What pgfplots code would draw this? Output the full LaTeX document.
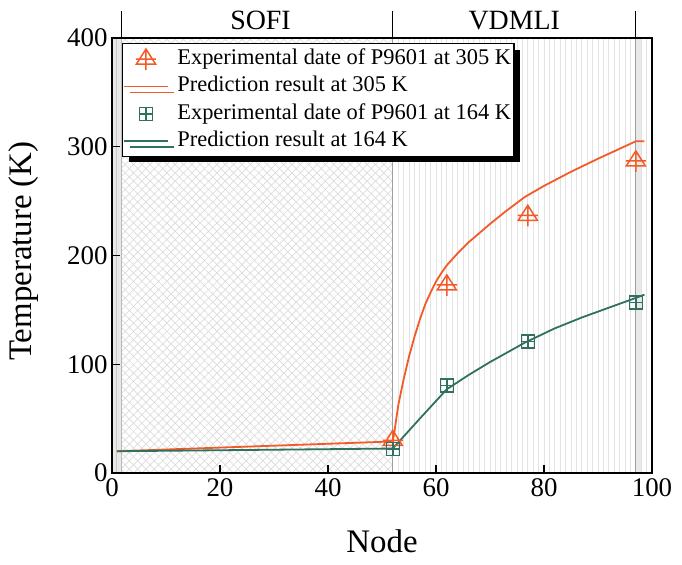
\documentclass[border=0pt]{standalone}
\usepackage{fontspec}
\setmainfont{Liberation Serif}
\usepackage{pgfplots}
\pgfplotsset{compat=1.18}
\usetikzlibrary{patterns.meta,shadows}
\definecolor{cOr}{RGB}{242,90,40}
\definecolor{cGr}{RGB}{47,112,96}
\pgfdeclareplotmark{tricross}{%
  \pgfpathmoveto{\pgfqpoint{0pt}{1.0\pgfplotmarksize}}%
  \pgfpathlineto{\pgfqpoint{-0.95\pgfplotmarksize}{-0.5\pgfplotmarksize}}%
  \pgfpathlineto{\pgfqpoint{0.95\pgfplotmarksize}{-0.5\pgfplotmarksize}}%
  \pgfpathclose
  \pgfpathmoveto{\pgfqpoint{0pt}{1.0\pgfplotmarksize}}%
  \pgfpathlineto{\pgfqpoint{0pt}{-1.1\pgfplotmarksize}}%
  \pgfpathmoveto{\pgfqpoint{-1.0\pgfplotmarksize}{0pt}}%
  \pgfpathlineto{\pgfqpoint{1.0\pgfplotmarksize}{0pt}}%
  \pgfusepathqstroke}
\pgfdeclareplotmark{sqplus}{%
  \pgfpathrectangle{\pgfqpoint{-\pgfplotmarksize}{-\pgfplotmarksize}}{\pgfqpoint{2\pgfplotmarksize}{2\pgfplotmarksize}}%
  \pgfpathmoveto{\pgfqpoint{0pt}{-\pgfplotmarksize}}%
  \pgfpathlineto{\pgfqpoint{0pt}{\pgfplotmarksize}}%
  \pgfpathmoveto{\pgfqpoint{-\pgfplotmarksize}{0pt}}%
  \pgfpathlineto{\pgfqpoint{\pgfplotmarksize}{0pt}}%
  \pgfusepathqstroke}
\begin{document}
\begin{tikzpicture}
\begin{axis}[
  scale only axis, width=540bp, height=435bp,
  xmin=0, xmax=100, ymin=0, ymax=400,
  clip=false, axis on top,
  xtick={0,20,...,100}, ytick={0,100,...,400},
  xtick pos=bottom, ytick pos=left,
  tick align=inside, major tick length=8bp,
  tick style={black, line width=1.5bp},
  axis line style={line width=2bp, black},
  /pgf/number format/assume math mode=true,
  tick label style={font=\fontsize{27}{30}\selectfont},
  xticklabel style={yshift=-2.5bp},
  yticklabel style={xshift=-1bp},
  label style={font=\fontsize{33}{38}\selectfont},
  xlabel={Node}, ylabel={Temperature (K)},
  xlabel style={at={(axis description cs:0.5,-0.158)}, anchor=center},
  ylabel style={at={(axis description cs:-0.164,0.51)}, anchor=center},
  legend image code/.code={\draw[mark repeat=2,mark phase=2,#1] plot coordinates {(0bp,0bp) (22bp,0bp) (44bp,0bp)};},
  legend cell align=left,
  legend style={at={(0.0185,0.988)}, anchor=north west, draw=black, line width=1.2bp,
     fill=white, font=\fontsize{22.5}{26}\selectfont, inner xsep=0.5bp, inner ysep=1.5bp,
     nodes={text height=16bp, text depth=5bp, inner ysep=3.2bp, inner xsep=2.5bp},
     /tikz/every odd column/.append style={column sep=6bp},
     drop shadow={shadow xshift=6bp, shadow yshift=-6bp, opacity=1, fill=black}},
]
% background regions
\addplot[forget plot, draw=none, fill=gray!18] coordinates {(0,0) (1.8,0) (1.8,400) (0,400)} -- cycle;
\addplot[forget plot, draw=none, pattern={Lines[angle=45,distance=5.9bp,line width=0.7bp]}, pattern color=gray!28] coordinates {(1.8,0) (52,0) (52,400) (1.8,400)} -- cycle;
\addplot[forget plot, draw=none, pattern={Lines[angle=-45,distance=5.9bp,line width=0.7bp]}, pattern color=gray!28] coordinates {(1.8,0) (52,0) (52,400) (1.8,400)} -- cycle;
\addplot[forget plot, draw=none, fill=gray!18] coordinates {(97,0) (98.1,0) (98.1,400) (97,400)} -- cycle;
\addplot[forget plot, ycomb, no marks, gray!22, line width=0.9bp] coordinates {
 (53,400) (54,400) (55,400) (56,400) (57,400) (58,400) (59,400) (60,400) (61,400) (62,400)
 (63,400) (64,400) (65,400) (66,400) (67,400) (68,400) (69,400) (70,400) (71,400) (72,400)
 (73,400) (74,400) (75,400) (76,400) (77,400) (78,400) (79,400) (80,400) (81,400) (82,400)
 (83,400) (84,400) (85,400) (86,400) (87,400) (88,400) (89,400) (90,400) (91,400) (92,400)
 (93,400) (94,400) (95,400) (96,400) (98,400) (99,400)};
\addplot[forget plot, gray!45, line width=1bp] coordinates {(0.9,0) (0.9,400)};
\addplot[forget plot, gray!55, line width=1.1bp] coordinates {(1.8,0) (1.8,400)};
\addplot[forget plot, gray!75, line width=1.2bp] coordinates {(52,0) (52,400)};
\addplot[forget plot, gray!75, line width=1.2bp] coordinates {(97,0) (97,400)};
\addplot[forget plot, black, line width=1.3bp] coordinates {(1.8,400) (1.8,425)};
\addplot[forget plot, black, line width=1.3bp] coordinates {(52,400) (52,425)};
\addplot[forget plot, black, line width=1.3bp] coordinates {(97,400) (97,425)};
\node[anchor=base, font=\fontsize{28}{32}\selectfont] at (axis cs:27.5,408) {SOFI};
\node[anchor=base, font=\fontsize{28}{32}\selectfont] at (axis cs:74.5,408) {VDMLI};
% data
\addplot[only marks, mark=tricross, mark size=10bp, cOr, line width=1.5bp] coordinates {
 (52,30) (62,173) (77,237) (97,287)};
\addlegendentry{Experimental date of P9601 at 305 K}
\addplot[no marks, cOr, line width=1.8bp] coordinates {
 (0.9,20) (52,29) (52.3,38) (53,62) (54,86) (55,107) (56,125) (57,141) (58,155) (59,166)
 (60,176) (61,184) (62,191) (64,202) (66,212) (70,229) (73,241) (76.5,254) (80,264) (85,277) (90,289) (97,305) (98.6,305)};
\addlegendentry{Prediction result at 305 K}
\addplot[only marks, mark=sqplus, mark size=6.5bp, cGr, line width=1.5bp] coordinates {
 (52,22) (62,80.5) (77,121) (97,157)};
\addlegendentry{Experimental date of P9601 at 164 K}
\addplot[no marks, cGr, line width=1.8bp] coordinates {
 (0.9,20) (52,22.5) (57,50) (62,77) (66,90) (70,102) (76.5,120) (82,133) (87,143) (92,152) (97,161) (98.6,164)};
\addlegendentry{Prediction result at 164 K}
\end{axis}
\pgfresetboundingbox
\path (current axis.south west) ++(-112bp,-92bp) rectangle ++(682bp,565bp);
\end{tikzpicture}
\end{document}
